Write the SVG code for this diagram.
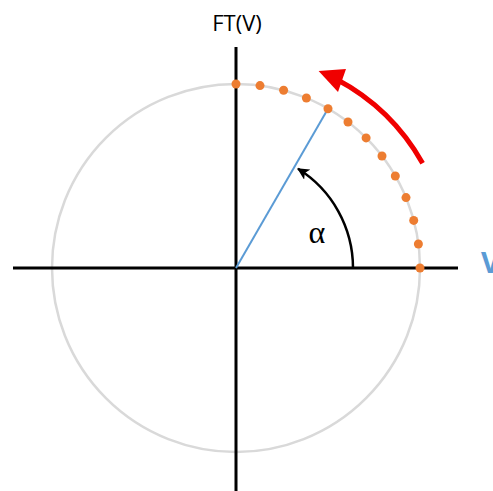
<svg xmlns="http://www.w3.org/2000/svg" width="493" height="491" viewBox="0 0 493 491">
<style>
.axis{stroke:#000;stroke-width:3;fill:none}
.dot{fill:#ed7d31}
.lbl{font-family:"Open Sans","Liberation Sans",sans-serif}
</style>
<defs>
<marker id="ah" markerWidth="12" markerHeight="12" refX="11" refY="6" orient="auto" markerUnits="userSpaceOnUse">
<path d="M0,0 L12,6 L0,12 L3,6 Z" fill="#000"/>
</marker>
</defs>
<rect width="493" height="491" fill="#fff"/>
<g id="circle"><circle cx="236" cy="268" r="184" fill="none" stroke="#d9d9d9" stroke-width="2.5"/></g>
<g id="connectors">
<line class="axis" x1="13" y1="268" x2="458" y2="268"/>
<line class="axis" x1="236" y1="47" x2="236" y2="491"/>
<line x1="236" y1="268" x2="328" y2="108.7" stroke="#5b9bd5" stroke-width="2"/>
<path d="M353,268 A117,117 0 0 0 298,168.8" fill="none" stroke="#000" stroke-width="2.5" marker-end="url(#ah)"/>
<path d="M422.6,163.2 A214,214 0 0 0 336,79" fill="none" stroke="#f00000" stroke-width="5"/>
<polygon points="318.6,71 346,69 338,92" fill="#f00000"/>
</g>
<g id="dots">
<circle class="dot" cx="420" cy="268" r="4.5"/>
<circle class="dot" cx="418.4" cy="244" r="4.5"/>
<circle class="dot" cx="413.7" cy="220.4" r="4.5"/>
<circle class="dot" cx="406" cy="197.6" r="4.5"/>
<circle class="dot" cx="395.3" cy="176" r="4.5"/>
<circle class="dot" cx="382" cy="156" r="4.5"/>
<circle class="dot" cx="366.1" cy="137.9" r="4.5"/>
<circle class="dot" cx="348" cy="122" r="4.5"/>
<circle class="dot" cx="328" cy="108.7" r="4.5"/>
<circle class="dot" cx="306.4" cy="98" r="4.5"/>
<circle class="dot" cx="283.6" cy="90.3" r="4.5"/>
<circle class="dot" cx="260" cy="85.6" r="4.5"/>
<circle class="dot" cx="236" cy="84" r="4.5"/>
</g>
<g id="labels">
<text class="lbl" x="237" y="31" font-size="22" text-anchor="middle" fill="#000">FT(V)</text>
<text class="lbl" x="481" y="273" font-size="29" font-weight="bold" fill="#5b9bd5">V</text>
<text x="317" y="243" font-size="32" text-anchor="middle" fill="#000" font-family="'Liberation Serif',serif">α</text>
</g>
</svg>
